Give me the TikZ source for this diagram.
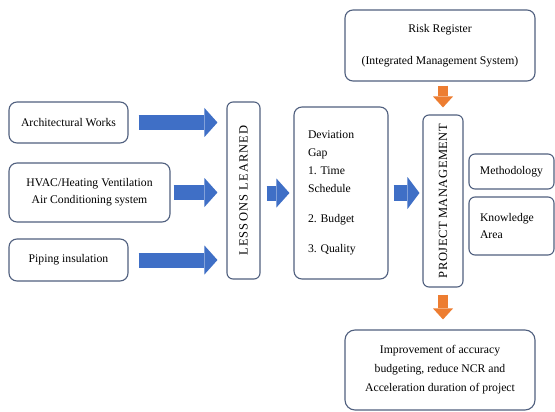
\documentclass[tikz,border=0pt]{standalone}
\usepackage{fontspec}
\usepackage{graphicx}
\setmainfont{Liberation Serif}
\usetikzlibrary{arrows.meta}
\definecolor{edgec}{HTML}{50607F}
\definecolor{blk}{HTML}{3F6FC6}
\definecolor{org}{HTML}{ED7D31}
\frenchspacing
\begin{document}
\begin{tikzpicture}[x=1pt,y=-1pt,
  every node/.style={font=\fontsize{11.7}{18}\selectfont},
  boxn/.style={draw=edgec, line width=1.1pt, rounded corners=8pt, fill=white, inner sep=0pt, align=center},
  bluearr/.style={draw=blk, line width=15pt, -{Triangle[length=13pt,width=29pt,line width=0pt]}},
  orgarr/.style={draw=org, line width=10pt, -{Triangle[length=11pt,width=20pt,line width=0pt]}},
]
\useasboundingbox[fill=white] (0,0) rectangle (555,412);

\node[boxn, minimum width=119pt, minimum height=41pt] (arch) at (68.5,122.5) {Architectural Works};
\node[boxn, minimum width=161pt, minimum height=59pt, font=\fontsize{11.7}{17}\selectfont] (hvac) at (89.5,192.5) {HVAC/Heating Ventilation\\Air Conditioning system};
\node[boxn, minimum width=119pt, minimum height=42pt] (pip) at (68.5,260) {Piping insulation};
\node[boxn, rounded corners=6pt, minimum width=33pt, minimum height=177pt, font=\fontsize{12.5}{15}\selectfont] (lessons) at (243.5,190.5)
  {\rotatebox{90}{\addfontfeature{LetterSpace=9}LESSONS LEARNED}};
\node[boxn, minimum width=94pt, minimum height=172pt, text width=66pt, inner xsep=14pt, align=left] (dev) at (341,193)
  {Deviation\\Gap\\1. Time\\Schedule\\[12pt]2. Budget\\[12pt]3. Quality};
\node[boxn, minimum width=190pt, minimum height=71pt] (risk) at (440,45.5)
  {Risk Register\\[14pt](Integrated Management System)};
\node[boxn, rounded corners=6pt, minimum width=40pt, minimum height=172pt, font=\fontsize{12.5}{15}\selectfont] (pm) at (443,201)
  {\rotatebox{90}{\addfontfeature{LetterSpace=4}PROJECT MANAGEMENT}};
\node[boxn, rounded corners=6pt, minimum width=85pt, minimum height=35pt] (meth) at (511.5,171.5) {Methodology};
\node[boxn, rounded corners=6pt, minimum width=85pt, minimum height=58pt, text width=63pt, inner xsep=11pt, align=left, font=\fontsize{11.7}{17}\selectfont] (know) at (511.5,226)
  {Knowledge\\Area};
\node[boxn, rounded corners=10pt, minimum width=190pt, minimum height=80pt, font=\fontsize{11.7}{19}\selectfont] (impr) at (440,370)
  {Improvement of accuracy\\budgeting, reduce NCR and\\Acceleration duration of project};

\draw[bluearr, shorten <=10pt, shorten >=9pt] (arch.east) -- (arch.east -| lessons.west);
\draw[bluearr, shorten <=3pt, shorten >=9pt] (hvac.east) -- (hvac.east -| lessons.west);
\draw[bluearr, shorten <=10pt, shorten >=9pt] (pip.east) -- (pip.east -| lessons.west);
\draw[bluearr, shorten <=6pt, shorten >=4pt] (lessons.east |- dev.west) -- (dev.west);
\draw[bluearr, line width=16pt, -{Triangle[length=12pt,width=32pt,line width=0pt]}, shorten <=5pt, shorten >=3pt] (dev.east) -- (dev.east -| pm.west);
\draw[orgarr, shorten <=4pt, shorten >=7pt] (risk.south -| pm.north) -- (pm.north);
\draw[orgarr, shorten <=7pt, shorten >=10pt] (pm.south) -- (pm.south |- impr.north);
\end{tikzpicture}
\end{document}
